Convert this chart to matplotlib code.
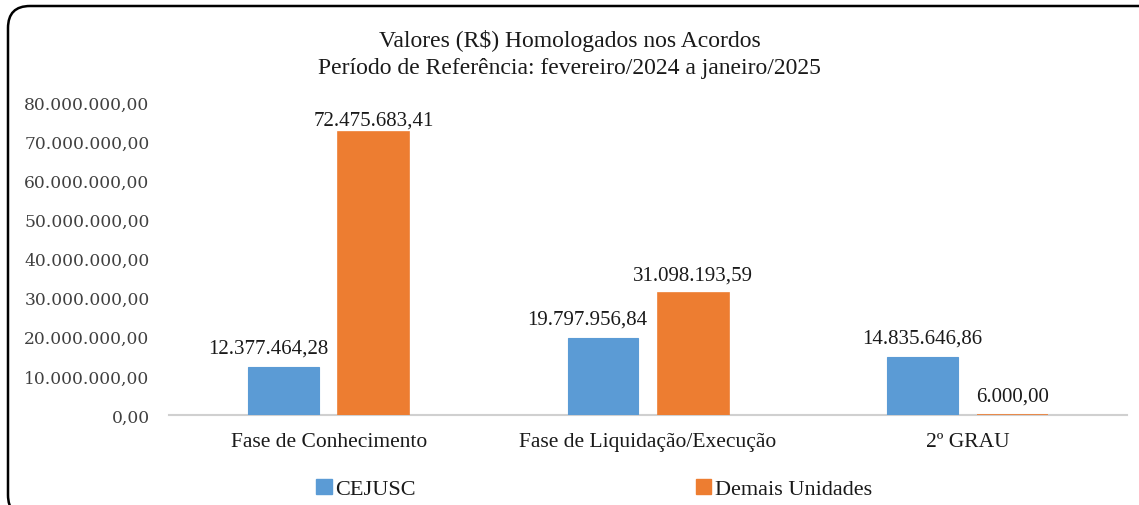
import matplotlib
matplotlib.use("Agg")
import matplotlib.pyplot as plt
from matplotlib.patches import FancyBboxPatch, Patch
import numpy as np

categories = ["Fase de Conhecimento", "Fase de Liquidação/Execução", "2º GRAU"]
cejusc = [12377464.28, 19797956.84, 14835646.86]
demais = [72475683.41, 31098193.59, 6000.00]
series_names = ["CEJUSC", "Demais Unidades"]
yticks = [0, 10e6, 20e6, 30e6, 40e6, 50e6, 60e6, 70e6, 80e6]

def br(v):
    s = f"{v:,.2f}"
    return s.replace(",", "X").replace(".", ",").replace("X", ".")

plt.rcParams['font.family'] = ['Liberation Serif', 'DejaVu Serif']
blue = "#5B9BD5"
orange = "#ED7D31"
ymax = 80e6

fig = plt.figure(figsize=(11.39, 5.06), dpi=100)
ax = fig.add_axes([0.1484, 0.178, 0.8411, 0.618])

x = np.arange(len(categories))
w = 0.222
off = 0.141
b1 = ax.bar(x - off, cejusc, w, color=blue, edgecolor=blue, linewidth=0.8, zorder=3)
b2 = ax.bar(x + off, demais, w, color=orange, edgecolor=orange, linewidth=1.2, zorder=3)

# CEJUSC labels shift left when the neighbouring bar is taller (avoid overlap)
for r, v, other in zip(b1, cejusc, demais):
    dx = -11 if other > v else 0
    ax.annotate(br(v), (r.get_x() + r.get_width() / 2, v), xytext=(dx, 6.5),
                textcoords="offset points", ha="center", va="bottom",
                fontsize=15, color="#1a1a1a", annotation_clip=False)
for r, v in zip(b2, demais):
    dy = 1.5 if v > 0.88 * ymax else 6.5
    ax.annotate(br(v), (r.get_x() + r.get_width() / 2, v), xytext=(0, dy),
                textcoords="offset points", ha="center", va="bottom",
                fontsize=15, color="#1a1a1a", annotation_clip=False)

ax.set_xlim(-0.5, 2.5)
ax.set_ylim(0, ymax)
ax.set_yticks(yticks)
ax.set_yticklabels([br(v) for v in yticks], fontsize=12.3, color="#404040",
                   family=['DejaVu Serif'])
ax.set_xticks(x)
ax.set_xticklabels(categories, fontsize=15.5, color="#1a1a1a")
ax.tick_params(axis='both', length=0)
ax.tick_params(axis='y', pad=14)
ax.tick_params(axis='x', pad=12)
for s in ["top", "right", "left"]:
    ax.spines[s].set_visible(False)
ax.spines["bottom"].set_color("#D0D0D0")
ax.spines["bottom"].set_linewidth(1.5)

fig.text(0.5, 0.918, "Valores (R$) Homologados nos Acordos", ha="center", va="center",
         fontsize=17, color="#1a1a1a")
fig.text(0.5, 0.864, "Período de Referência: fevereiro/2024 a janeiro/2025", ha="center",
         va="center", fontsize=17, color="#1a1a1a")

for name, col, xpos in ((series_names[0], blue, 0.2774), (series_names[1], orange, 0.611)):
    leg = fig.legend(handles=[Patch(color=col, label=name)], loc="center left",
                     bbox_to_anchor=(xpos, 0.032), frameon=False, fontsize=16,
                     handlelength=0.7, handleheight=0.7, handletextpad=0.15,
                     borderpad=0, borderaxespad=0)
    for t in leg.get_texts():
        t.set_color("#1a1a1a")

border = FancyBboxPatch((0.08, -0.12), 11.7, 5.11, boxstyle="round,pad=0,rounding_size=0.22",
                        transform=fig.dpi_scale_trans, fill=False, edgecolor="black",
                        linewidth=1.8, clip_on=False)
fig.patches.append(border)

fig.savefig("out.png", dpi=100)
